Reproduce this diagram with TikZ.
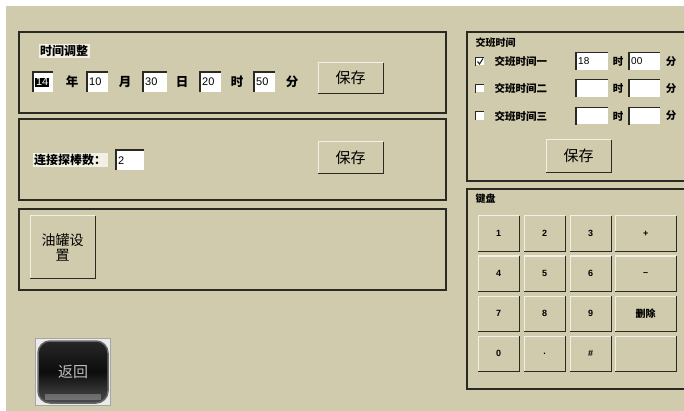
\documentclass[tikz,border=0pt]{standalone}
\usepackage{fontspec}
\setmainfont{Liberation Sans}
\newfontfamily\cjk{Noto Sans CJK SC}
\definecolor{bg}{HTML}{D0CBAC}
\definecolor{edge}{HTML}{2B2A22}
\definecolor{lite}{HTML}{F2F0E4}
\tikzset{
  panel/.style={draw=edge, line width=1.3pt},
  field/.style={fill=white, inner xsep=2pt, inner ysep=0pt, align=left, anchor=north west,
    font=\fontsize{11}{11}\selectfont},
  btn/.style={fill=bg, inner sep=0pt, anchor=north west, font=\cjk\fontsize{15}{16}\selectfont},
  kbtn/.style={btn, minimum width=41pt, minimum height=35pt, font=\bfseries\fontsize{9}{9}\selectfont},
  unit/.style={font=\cjk\bfseries\fontsize{12.5}{12.5}\selectfont},
  small/.style={font=\cjk\bfseries\fontsize{10.5}{10.5}\selectfont},
  tag/.style={fill=lite, inner sep=1.5pt, font=\cjk\bfseries\fontsize{12}{12}\selectfont},
}
\newcommand\raised[1]{%
  \draw[lite, line width=1pt] (#1.south west) |- (#1.north east);
  \draw[edge, line width=1.6pt] (#1.south west) -| (#1.north east);}
\newcommand\sunken[1]{%
  \draw[edge, line width=1.2pt] (#1.south west) |- (#1.north east);}
\begin{document}
\begin{tikzpicture}[x=1pt, y=-1pt]
\useasboundingbox (0,0) rectangle (684,411);
\clip (0,0) rectangle (684,411);
\fill[white] (0,0) rectangle (684,411);
\fill[bg] (6,6) rectangle (684,411);

% ---------- panel 1 : time adjust ----------
\draw[panel] (19,32) rectangle (446,113);
\node[tag, anchor=center] (t1) at (64,51) {时间调整};
\node[field, text width=16pt, minimum height=20pt] (fy) at (33,72) {};
\node[fill=black, text=white, inner sep=0.8pt, anchor=west, font=\fontsize{11}{11}\selectfont] (fyt) at ([xshift=2pt]fy.west) {14};
\sunken{fy}
\node[unit] (uy) at (72,82) {年};
\node[field, text width=17pt, minimum height=20pt] (fm) at (87,72) {10};
\sunken{fm}
\node[unit] (um) at (125,82) {月};
\node[field, text width=20pt, minimum height=20pt] (fd) at (143,72) {30};
\sunken{fd}
\node[unit] (ud) at (182,82) {日};
\node[field, text width=17pt, minimum height=20pt] (fh) at (200,72) {20};
\sunken{fh}
\node[unit] (uh) at (237,82) {时};
\node[field, text width=17pt, minimum height=20pt] (fn) at (254,72) {50};
\sunken{fn}
\node[unit] (un) at (292,82) {分};
\node[btn, minimum width=65pt, minimum height=30pt] (b1) at (318,63) {保存};
\raised{b1}

% ---------- panel 2 : probe count ----------
\draw[panel] (19,119) rectangle (446,200);
\node[tag, anchor=center] (t2) at (70,160) {连接探棒数：};
\node[field, text width=24pt, minimum height=20pt] (fp) at (116,150) {2};
\sunken{fp}
\node[btn, minimum width=65pt, minimum height=31pt] (b2) at (318,142) {保存};
\raised{b2}

% ---------- panel 3 : tank setup ----------
\draw[panel] (19,209) rectangle (446,290);
\node[btn, minimum width=65pt, minimum height=62pt, align=center,
  font=\cjk\fontsize{14}{15}\selectfont] (b3) at (30,216) {油罐设\\置};
\raised{b3}

% ---------- return button ----------
\node[fill=black!8, draw=black!35, line width=1pt, minimum width=75pt, minimum height=67pt,
  inner sep=0pt, anchor=north west] (rf) at (35,338) {};
\node[rounded corners=12pt, minimum width=70pt, minimum height=62pt, inner sep=0pt,
  top color=black!85, bottom color=black!70, middle color=black!95, draw=black!60, line width=1.5pt]
  (rb) at (rf.center) {};
\fill[white, opacity=0.25] ([xshift=8pt,yshift=4pt]rb.south west) rectangle ([xshift=-8pt,yshift=10pt]rb.south east);
\node[text=black!25, font=\cjk\fontsize{15}{15}\selectfont] (rt) at (rb.center) {返回};

% ---------- right panel : shift times ----------
\draw[panel] (690,32) -- (467,32) -- (467,181) -- (690,181);
\node[anchor=west, font=\cjk\bfseries\fontsize{10}{10}\selectfont] (st) at (472,43) {交班时间};
\foreach \i/\yy/\nm/\hh/\mm in {1/61.5/一/18/00, 2/88.5/二//, 3/116/三//} {
  \node[fill=white, minimum size=8pt, inner sep=0pt] (cb\i) at (480,\yy) {};
  \sunken{cb\i}
  \node[anchor=west, small] (sl\i) at (491,\yy) {交班时间\nm};
  \node[field, text width=28pt, minimum height=17pt, anchor=west, font=\fontsize{10}{10}\selectfont] (sh\i) at (576,\yy) {\hh};
  \sunken{sh\i}
  \node[small] (su\i) at (618,\yy) {时};
  \node[field, text width=27pt, minimum height=17pt, anchor=west, font=\fontsize{10}{10}\selectfont] (sm\i) at (629,\yy) {\mm};
  \sunken{sm\i}
  \node[small] (sv\i) at (671,\yy) {分};
}
\draw[edge, line width=1.1pt] ([xshift=-2.5pt]cb1.center) -- ([xshift=-0.5pt,yshift=-2.5pt]cb1.center) -- ([xshift=3pt,yshift=3pt]cb1.center);
\node[btn, minimum width=65pt, minimum height=32pt] (b4) at (546,140) {保存};
\raised{b4}

% ---------- right panel : keyboard ----------
\draw[panel] (690,189) -- (467,189) -- (467,389) -- (690,389);
\node[anchor=west, font=\cjk\bfseries\fontsize{10}{10}\selectfont] (kt) at (472,199) {键盘};
\foreach \r/\yy/\a/\b/\c in {1/216/1/2/3, 2/256/4/5/6, 3/296/7/8/9, 4/336/0/./\#} {
  \node[kbtn] (k\r a) at (478,\yy) {\a}; \raised{k\r a}
  \node[kbtn] (k\r b) at (524,\yy) {\b}; \raised{k\r b}
  \node[kbtn] (k\r c) at (570,\yy) {\c}; \raised{k\r c}
}
\node[kbtn, minimum width=61pt] (k1d) at (615,216) {+}; \raised{k1d}
\node[kbtn, minimum width=61pt] (k2d) at (615,256) {–}; \raised{k2d}
\node[kbtn, minimum width=61pt, font=\cjk\bfseries\fontsize{10}{10}\selectfont] (k3d) at (615,296) {删除}; \raised{k3d}
\node[kbtn, minimum width=61pt] (k4d) at (615,336) {}; \raised{k4d}
\end{tikzpicture}
\end{document}
